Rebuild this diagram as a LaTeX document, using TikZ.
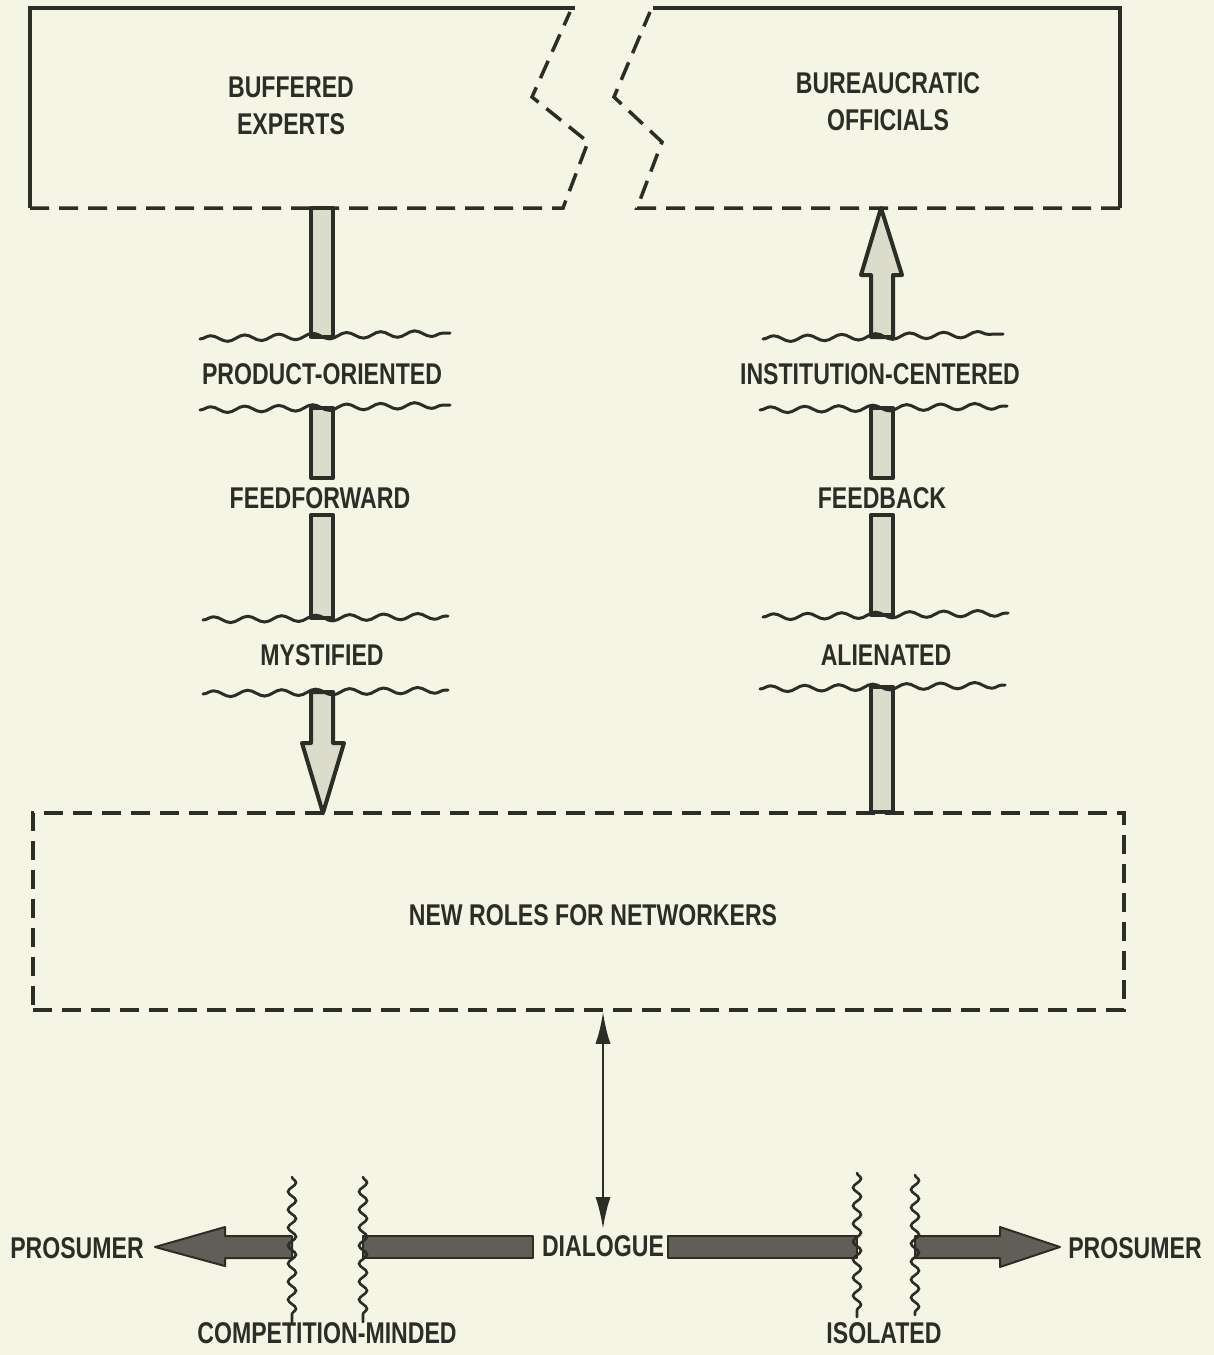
\documentclass[tikz,border=0pt]{standalone}
\usepackage{fontspec}
\setmainfont{Liberation Sans}[FakeStretch=0.77]
\usetikzlibrary{decorations.pathmorphing,arrows.meta}
\definecolor{paper}{RGB}{244,245,228}
\definecolor{ink}{RGB}{45,45,40}
\definecolor{shaftfill}{RGB}{220,220,204}
\definecolor{darkfill}{RGB}{96,94,86}
\begin{document}
\begin{tikzpicture}[x=1pt,y=-1pt,
  lbl/.style={font=\fontsize{30}{37}\selectfont\bfseries, text=ink, inner sep=0pt, align=center},
  solidedge/.style={draw=ink, line width=3.5pt, line join=miter},
  dashedge/.style={draw=ink, line width=3.5pt, dash pattern=on 19pt off 10pt},
  vshaft/.style={fill=shaftfill, draw=ink, line width=4pt, line join=round},
  hshaft/.style={fill=darkfill, draw=ink, line width=2pt, line join=round},
  wavy/.style={draw=ink, line width=3pt, line cap=round, decorate, decoration={snake, segment length=34pt, amplitude=3pt}},
  vwavy/.style={draw=ink, line width=2.6pt, line cap=round, decorate, decoration={snake, segment length=18pt, amplitude=4pt}},
  thinarrow/.style={draw=ink, line width=2.8pt, {Latex[length=32pt,width=15pt]}-{Latex[length=32pt,width=15pt]}}
]
\fill[paper] (0,0) rectangle (1214,1355);
\useasboundingbox (0,0) rectangle (1214,1355);

% ---------- top boxes ----------
\draw[solidedge] (575,8) -- (30,8) -- (30,208);
\draw[dashedge] (30,208) -- (563,208) -- (588,142) -- (532,97) -- (570,12);
\node[lbl] (be) at (291,106) {BUFFERED\\EXPERTS};

\draw[solidedge] (653,8) -- (1120,8) -- (1120,208);
\draw[dashedge] (1120,208) -- (637,208) -- (662,142) -- (614,97) -- (650,12);
\node[lbl] (bo) at (888,102) {BUREAUCRATIC\\OFFICIALS};

% ---------- bottom box ----------
\node[dashedge, minimum width=1091pt, minimum height=197pt, inner sep=0pt] (nrbox) at (578.5,911.5) {};
\node[lbl] (nr) at (593,915) {NEW ROLES FOR NETWORKERS};

% ---------- left descending arrow ----------
\filldraw[vshaft] (311,208) rectangle (333,337);
\filldraw[vshaft] (311,408) rectangle (333,478);
\filldraw[vshaft] (311,515) rectangle (333,618);
\filldraw[vshaft] (311,692) -- (311,743) -- (302,743) -- (323,813) -- (344,743) -- (333,743) -- (333,692) -- cycle;
\draw[wavy] (200,339) -- (450,333);
\draw[wavy] (200,410) -- (450,405);
\draw[wavy] (203,620) -- (448,616);
\draw[wavy] (203,694) -- (448,690);
\node[lbl] (po) at (322,374) {PRODUCT-ORIENTED};
\node[lbl] (ff) at (320,498) {FEEDFORWARD};
\node[lbl] (my) at (322,655) {MYSTIFIED};

% ---------- right ascending arrow ----------
\filldraw[vshaft] (871,337) -- (871,275) -- (861,275) -- (881,208) -- (902,275) -- (893,275) -- (893,337) -- cycle;
\filldraw[vshaft] (871,408) rectangle (893,478);
\filldraw[vshaft] (871,515) rectangle (893,615);
\filldraw[vshaft] (871,687) rectangle (893,812);
\draw[wavy] (763,339) -- (1003,334);
\draw[wavy] (760,410) -- (1007,406);
\draw[wavy] (763,617) -- (1008,613);
\draw[wavy] (760,689) -- (1005,685);
\node[lbl] (ic) at (880,374) {INSTITUTION-CENTERED};
\node[lbl] (fb) at (882,498) {FEEDBACK};
\node[lbl] (al) at (886,655) {ALIENATED};

% ---------- bottom row ----------
\node[lbl] (dl) at (603,1246) {DIALOGUE};
\node[lbl] (pl) at (77,1248) {PROSUMER};
\node[lbl] (pr) at (1135,1248) {PROSUMER};
\node[lbl] (cm) at (327,1333) {COMPETITION-MINDED};
\node[lbl] (is) at (884,1333) {ISOLATED};

\filldraw[hshaft] (292,1236) -- (225,1236) -- (225,1227) -- (155,1247) -- (225,1266) -- (225,1258) -- (292,1258) -- cycle;
\filldraw[hshaft] (363,1236) rectangle (533,1258);
\filldraw[hshaft] (668,1236) rectangle (857,1258);
\filldraw[hshaft] (915,1236) -- (1000,1236) -- (1000,1227) -- (1060,1247) -- (1000,1267) -- (1000,1258) -- (915,1258) -- cycle;
\draw[vwavy] (292,1177) -- (292,1322);
\draw[vwavy] (363,1177) -- (363,1322);
\draw[vwavy] (857,1173) -- (857,1317);
\draw[vwavy] (915,1175) -- (915,1315);

\draw[thinarrow] (nrbox.south -| dl.north) -- ([yshift=6pt]dl.north);
\end{tikzpicture}
\end{document}
